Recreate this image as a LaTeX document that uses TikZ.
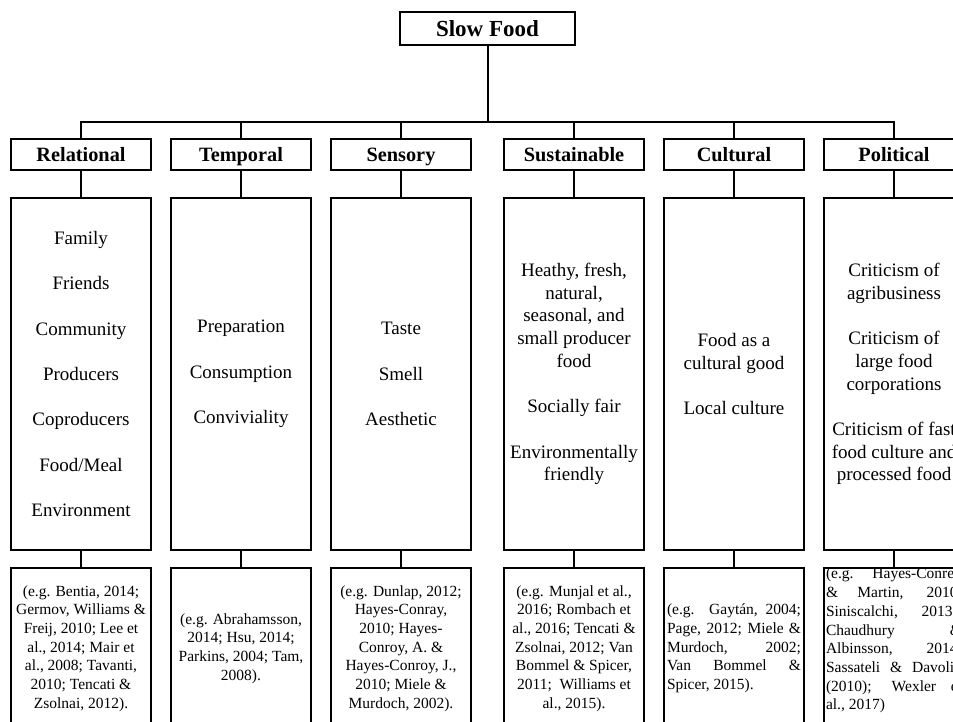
\documentclass[tikz,border=0pt]{standalone}
\usepackage{fontspec}
\setmainfont{Liberation Serif}
\begin{document}
\begin{tikzpicture}[x=1pt,y=-1pt,
  box/.style={draw, line width=2pt, inner sep=0pt},
  topbox/.style={box, minimum width=175pt, minimum height=33pt, font=\bfseries\fontsize{23}{26}\selectfont},
  catbox/.style={box, minimum width=140pt, minimum height=31pt, text height=14pt, text depth=0pt, font=\bfseries\fontsize{20.3}{24}\selectfont},
  mainbox/.style={box, minimum width=140pt, minimum height=352pt, align=center, font=\fontsize{19}{22.7}\selectfont},
  refbox/.style={box, minimum width=140pt, minimum height=161pt, align=center, font=\fontsize{15.5}{18.7}\selectfont},
  reftext/.style={inner sep=0pt, align=left, font=\fontsize{15.5}{18.7}\selectfont},
  conn/.style={line width=2pt}
]
\useasboundingbox (0,0) rectangle (953,722);
\clip (0,0) rectangle (953,722);

\node[topbox] (slow) at (487.5,28.5) {Slow Food};
\coordinate (hub) at (487.5,122);

\node[catbox] (c1) at (81,154.5) {Relational};
\node[catbox] (c2) at (241,154.5) {Temporal};
\node[catbox] (c3) at (401,154.5) {Sensory};
\node[catbox] (c4) at (574,154.5) {Sustainable};
\node[catbox] (c5) at (734,154.5) {Cultural};
\node[catbox] (c6) at (894,154.5) {Political};

\node[mainbox] (m1) at (81,374) {Family\\[22.7pt]Friends\\[22.7pt]Community\\[22.7pt]Producers\\[22.7pt]Coproducers\\[22.7pt]Food/Meal\\[22.7pt]Environment};
\node[mainbox] (m2) at (241,374) {Preparation\\[22.7pt]Consumption\\[22.7pt]Conviviality};
\node[mainbox] (m3) at (401,374) {Taste\\[22.7pt]Smell\\[22.7pt]Aesthetic};
\node[mainbox] (m4) at (574,374) {Heathy, fresh,\\natural,\\seasonal, and\\small producer\\food\\[22.7pt]Socially fair\\[22.7pt]Environmentally\\friendly};
\node[mainbox] (m5) at (734,374) {Food as a\\cultural good\\[22.7pt]Local culture};
\node[mainbox] (m6) at (894,374) {Criticism of\\agribusiness\\[22.7pt]Criticism of\\large food\\corporations\\[22.7pt]Criticism of fast\\food culture and\\processed food};

\node[refbox] (r1) at (81,648.5) {(e.g. Bentia, 2014;\\Germov, Williams \&\\Freij, 2010; Lee et\\al., 2014; Mair et\\al., 2008; Tavanti,\\2010; Tencati \&\\Zsolnai, 2012).};
\node[refbox] (r2) at (241,648.5) {(e.g. Abrahamsson,\\2014; Hsu, 2014;\\Parkins, 2004; Tam,\\2008).};
\node[refbox] (r3) at (401,648.5) {(e.g. Dunlap, 2012;\\Hayes-Conray,\\2010; Hayes-\\Conroy, A. \&\\Hayes-Conroy, J.,\\2010; Miele \&\\Murdoch, 2002).};
\node[refbox] (r4) at (574,648.5) {(e.g. Munjal et al.,\\2016; Rombach et\\al., 2016; Tencati \&\\Zsolnai, 2012; Van\\Bommel \& Spicer,\\2011;\ \ Williams et\\al., 2015).};
\node[refbox] (r5) at (734,648.5) {};
\node[reftext] (t5) at (r5.center) {\makebox[134pt][s]{(e.g. Gaytán, 2004;}\\\makebox[134pt][s]{Page, 2012; Miele \&}\\\makebox[134pt][s]{Murdoch, 2002;}\\\makebox[134pt][s]{Van Bommel \&}\\\makebox[134pt][l]{Spicer, 2015).}};
\node[refbox] (r6) at (894,648.5) {};
\node[reftext, anchor=north] (t6) at ([yshift=-1pt]r6.north) {\makebox[136pt][s]{(e.g. Hayes-Conrey}\\\makebox[136pt][s]{\& Martin, 2010;}\\\makebox[136pt][s]{Siniscalchi, 2013);}\\\makebox[136pt][s]{Chaudhury \&}\\\makebox[136pt][s]{Albinsson, 2014;}\\\makebox[136pt][s]{Sassateli \& Davolio}\\\makebox[136pt][s]{(2010); Wexler et}\\\makebox[136pt][l]{al., 2017)}};

\draw[conn] (slow.south) -- (hub);
\foreach \i in {1,...,6}{
  \draw[conn] (c\i.north) |- (hub);
  \draw[conn] (c\i.south) -- (m\i.north);
  \draw[conn] (m\i.south) -- (r\i.north);
}
\end{tikzpicture}
\end{document}
